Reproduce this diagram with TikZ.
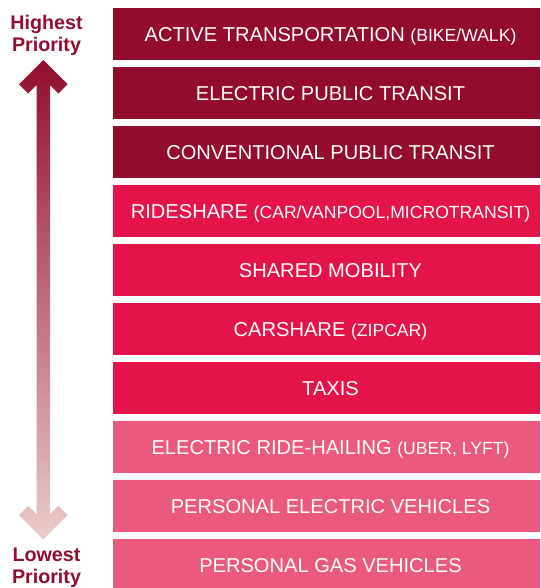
\documentclass[tikz,border=0pt]{standalone}
\usepackage{fontspec}
\setmainfont{Liberation Sans}
\usetikzlibrary{calc}
\definecolor{cdark}{RGB}{147,11,46}
\definecolor{cmid}{RGB}{228,20,72}
\definecolor{clight}{RGB}{235,89,124}
\definecolor{atop}{RGB}{146,13,47}
\definecolor{amid}{RGB}{180,98,92}
\definecolor{abot}{RGB}{234,204,198}
\newcommand{\sm}[1]{{\fontsize{17.6}{20}\selectfont #1}}
\tikzset{
  barbox/.style={fill=#1, text=white, minimum width=434.4pt, minimum height=52pt,
    inner sep=0pt, text height=14.3pt, text depth=0pt,
    font=\fontsize{20.1}{22}\selectfont},
  prio/.style={text=cdark, align=center, anchor=base, inner sep=0pt,
    font=\fontsize{19.7}{21.7}\selectfont\bfseries}
}
\begin{document}
\begin{tikzpicture}[x=1pt,y=-1pt]
\useasboundingbox (0,0) rectangle (540,588);
\clip (0,0) rectangle (540,588);
\node[barbox=cdark]  (b1)  at (330.5, 34.3) {ACTIVE TRANSPORTATION \sm{(BIKE/WALK)}};
\node[barbox=cdark]  (b2)  at (330.5, 93.3) {ELECTRIC PUBLIC TRANSIT};
\node[barbox=cdark]  (b3)  at (330.5,152.3) {CONVENTIONAL PUBLIC TRANSIT};
\node[barbox=cmid]   (b4)  at (330.5,211.3) {RIDESHARE \sm{(CAR/VANPOOL,MICROTRANSIT)}};
\node[barbox=cmid]   (b5)  at (330.5,270.3) {SHARED MOBILITY};
\node[barbox=cmid]   (b6)  at (330.5,329.3) {CARSHARE \sm{(ZIPCAR)}};
\node[barbox=cmid]   (b7)  at (330.5,388.3) {TAXIS};
\node[barbox=clight] (b8)  at (330.5,447.3) {ELECTRIC RIDE-HAILING \sm{(UBER, LYFT)}};
\node[barbox=clight] (b9)  at (330.5,506.3) {PERSONAL ELECTRIC VEHICLES};
\node[barbox=clight] (b10) at (330.5,565.3) {PERSONAL GAS VEHICLES};
\node[prio] (hi) at (46.5,51.7) {Highest\\Priority};
\node[prio] (lo) at (46.5,583.3) {Lowest\\Priority};
\coordinate (tt) at (43.3,60);
\coordinate (bt) at (43.3,539.3);
\shade[top color=atop, middle color=amid, bottom color=abot]
  (tt) -- ++(24.3,24.3) -- ++(-9.2,9.2) -- ++(-8.4,-8.4)
  -- ($(bt)+(6.7,-25.1)$) -- ++(8.4,-8.4) -- ++(9.2,9.2) -- (bt)
  -- ++(-24.3,-24.3) -- ++(9.2,-9.2) -- ++(8.4,8.4)
  -- ($(tt)+(-6.7,25.1)$) -- ++(-8.4,8.4) -- ++(-9.2,-9.2) -- cycle;
\end{tikzpicture}
\end{document}
